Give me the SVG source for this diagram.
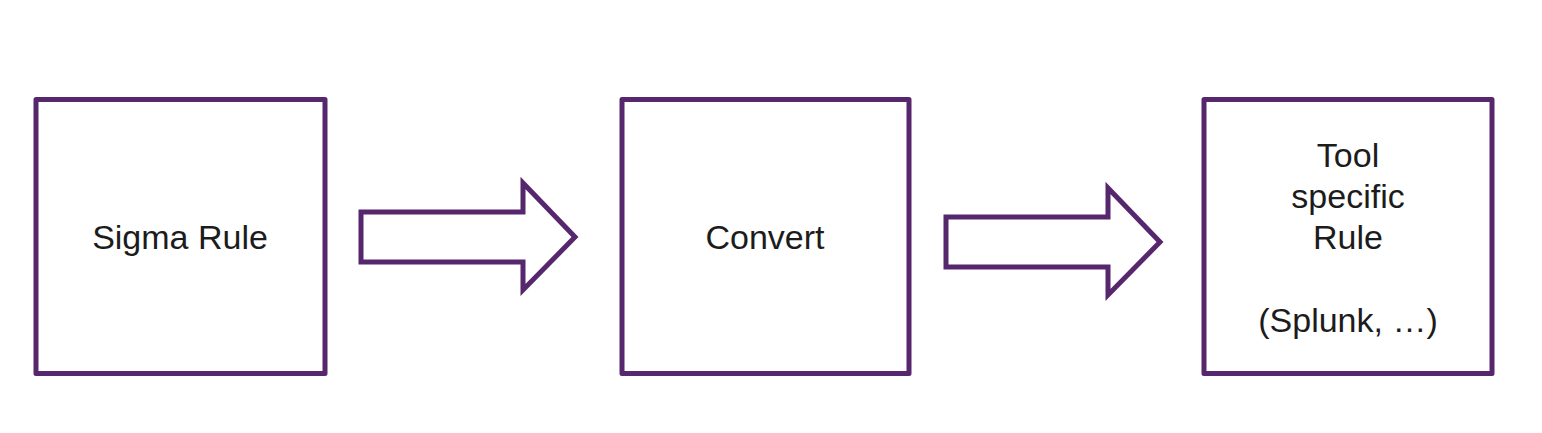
<svg xmlns="http://www.w3.org/2000/svg" width="1542" height="433" viewBox="0 0 1542 433">
<style>
.box{fill:#ffffff;stroke:#57276E;stroke-width:5;stroke-linejoin:round}
.arr{fill:#ffffff;stroke:#57276E;stroke-width:5;stroke-linejoin:miter}
.t{font-family:"Liberation Sans",Arial,sans-serif;font-size:34px;fill:#1c1c1c;text-anchor:middle}
</style>
<rect width="1542" height="433" fill="#ffffff"/>
<g id="node-sigma">
<rect class="box" x="36" y="99.5" width="289" height="274"/>
<text class="t" x="180" y="249">Sigma Rule</text>
</g>
<g id="node-convert">
<rect class="box" x="622" y="99.5" width="287" height="274"/>
<text class="t" x="765" y="249">Convert</text>
</g>
<g id="node-tool">
<rect class="box" x="1204" y="99.5" width="288" height="274"/>
<text class="t" x="1348" y="167">Tool</text>
<text class="t" x="1348" y="208">specific</text>
<text class="t" x="1348" y="249">Rule</text>
<text class="t" x="1348" y="332">(Splunk, …)</text>
</g>
<g id="connectors">
<path class="arr" d="M361,212 L523,212 L523,183 L575,237 L523,290 L523,262 L361,262 Z"/>
<path class="arr" d="M946,217 L1108,217 L1108,188 L1160,242 L1108,295 L1108,267 L946,267 Z"/>
</g>
</svg>
